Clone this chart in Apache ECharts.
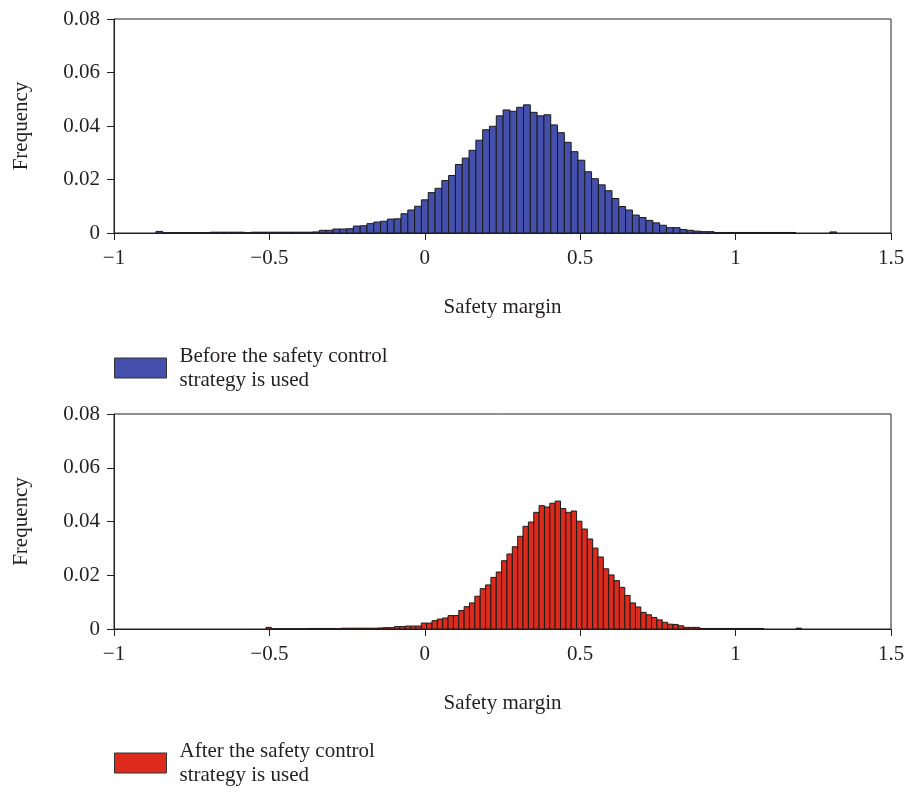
<!DOCTYPE html>
<html><head><meta charset="utf-8">
<script src="https://cdn.jsdelivr.net/npm/echarts@6/dist/echarts.min.js"></script>
<style>html,body{margin:0;padding:0;background:#fff}#c{width:908px;height:792px}</style>
</head><body><div id="c"></div>
<script>
// Histogram bin layout (100 bins each)
const beforeStart = -0.865, beforeBinWidth = 0.0219;
const afterStart = -0.511, afterBinWidth = 0.01723;

const beforeFreq = [
0.0006,0.0001,0.0001,0.0001,0.0001,0.0001,0.0001,0.0001,0.0003,0.0003,
0.0003,0.0003,0.0003,0.0001,0.0003,0.0003,0.0003,0.0003,0.0003,0.0003,
0.0003,0.0003,0.0003,0.0004,0.0010,0.0010,0.0015,0.0015,0.0016,0.0026,
0.0027,0.0035,0.0041,0.0044,0.0052,0.0053,0.0072,0.0086,0.0100,0.0124,
0.0151,0.0167,0.0196,0.0215,0.0256,0.0280,0.0309,0.0347,0.0386,0.0399,
0.0438,0.0460,0.0455,0.0470,0.0479,0.0451,0.0438,0.0442,0.0404,0.0375,
0.0339,0.0304,0.0272,0.0229,0.0203,0.0180,0.0158,0.0129,0.0099,0.0086,
0.0067,0.0058,0.0047,0.0038,0.0029,0.0020,0.0020,0.0013,0.0010,0.0007,
0.0005,0.0005,0.0002,0.0002,0.0002,0.0002,0.0002,0.0002,0.0002,0.0002,
0.0002,0.0002,0.0002,0.0002,0,0,0,0,0,0.0004];

const afterFreq = [
0.0006,0.0001,0.0001,0.0001,0.0001,0.0001,0.0001,0.0001,0.0002,0.0002,
0.0002,0.0002,0.0002,0.0001,0.0003,0.0003,0.0003,0.0003,0.0003,0.0003,
0.0003,0.0004,0.0005,0.0005,0.0009,0.0009,0.0011,0.0011,0.0011,0.0022,
0.0022,0.0031,0.0037,0.0041,0.0050,0.0050,0.0069,0.0083,0.0097,0.0122,
0.0150,0.0164,0.0192,0.0212,0.0254,0.0279,0.0306,0.0345,0.0382,0.0398,
0.0434,0.0459,0.0454,0.0468,0.0476,0.0448,0.0434,0.0439,0.0401,0.0372,
0.0335,0.0301,0.0268,0.0224,0.0201,0.0180,0.0155,0.0125,0.0097,0.0082,
0.0062,0.0053,0.0043,0.0034,0.0025,0.0018,0.0017,0.0012,0.0006,0.0006,
0.0006,0.0002,0.0002,0.0002,0.0002,0.0002,0.0002,0.0002,0.0002,0.0002,
0.0002,0.0002,0.0002,0,0,0,0,0,0,0.0003];

const xTickMin = -1, xTickMax = 1.5, xTickStep = 0.5;
const yTickMin = 0, yTickMax = 0.08, yTickStep = 0.02;
const xName = 'Safety margin', yName = 'Frequency';
const beforeName = 'Before the safety control\nstrategy is used';
const afterName = 'After the safety control\nstrategy is used';

const FONT = 'Liberation Serif';
const FS = 21;
const TXT = '#231f20';
const AX = '#231f20';

function bins(start, w, vals){
  return vals.map((v,i)=>[start + i*w, start + (i+1)*w, v]);
}
function makeRender(color){
  return function(params, api){
    const x0 = api.value(0), x1 = api.value(1), v = api.value(2);
    if (!v) return null;
    const p0 = api.coord([x0, v]);
    const p1 = api.coord([x1, 0]);
    return {type:'rect', shape:{x:p0[0], y:p0[1], width:p1[0]-p0[0], height:p1[1]-p0[1]},
      style:{fill:color, stroke:'#1a1a1a', lineWidth:1}};
  };
}
function xAxis(i){
  return {type:'value', gridIndex:i, min:xTickMin, max:xTickMax, interval:xTickStep,
    name:xName, nameLocation:'middle', nameGap:64,
    nameTextStyle:{fontFamily:FONT, fontSize:FS, color:TXT},
    axisLine:{show:true, onZero:false, lineStyle:{color:AX, width:1}},
    axisTick:{show:true, length:7, lineStyle:{color:AX}},
    axisLabel:{fontFamily:FONT, fontSize:FS, color:TXT, margin:15,
      formatter:v=>String(v).replace('-', '\u2212')},
    splitLine:{show:false}};
}
function yAxis(i){
  return {type:'value', gridIndex:i, min:yTickMin, max:yTickMax, interval:yTickStep,
    name:yName, nameLocation:'middle', nameGap:82,
    nameTextStyle:{fontFamily:FONT, fontSize:FS, color:TXT},
    axisLine:{show:true, onZero:false, lineStyle:{color:AX, width:1}},
    axisTick:{show:true, length:7, lineStyle:{color:AX}},
    axisLabel:{fontFamily:FONT, fontSize:FS, color:TXT, margin:14},
    splitLine:{show:false}};
}
const legendText = {fontFamily:FONT, fontSize:FS, lineHeight:24, color:TXT, padding:[0,0,0,8]};

const chart = echarts.init(document.getElementById('c'), null, {renderer:'canvas'});
chart.setOption({
  backgroundColor:'#fff',
  animation:false,
  grid:[
    {left:114, width:777, top:19, height:214, show:true, borderColor:AX, borderWidth:1},
    {left:114, width:777, top:414, height:215, show:true, borderColor:AX, borderWidth:1}
  ],
  xAxis:[xAxis(0), xAxis(1)],
  yAxis:[yAxis(0), yAxis(1)],
  legend:[
    {left:114, top:344, padding:0, orient:'vertical', icon:'rect', itemWidth:52, itemHeight:20,
      data:[beforeName], textStyle:legendText, selectedMode:false,
      itemStyle:{borderColor:'#333', borderWidth:1}},
    {left:114, top:739, padding:0, orient:'vertical', icon:'rect', itemWidth:52, itemHeight:20,
      data:[afterName], textStyle:legendText, selectedMode:false,
      itemStyle:{borderColor:'#333', borderWidth:1}}
  ],
  series:[
    {type:'custom', name:beforeName, xAxisIndex:0, yAxisIndex:0,
      renderItem:makeRender('#4450ac'), encode:{x:[0,1], y:2},
      itemStyle:{color:'#4450ac'}, data:bins(beforeStart, beforeBinWidth, beforeFreq)},
    {type:'custom', name:afterName, xAxisIndex:1, yAxisIndex:1,
      renderItem:makeRender('#dc2b1c'), encode:{x:[0,1], y:2},
      itemStyle:{color:'#dc2b1c'}, data:bins(afterStart, afterBinWidth, afterFreq)}
  ]
});
</script></body></html>
